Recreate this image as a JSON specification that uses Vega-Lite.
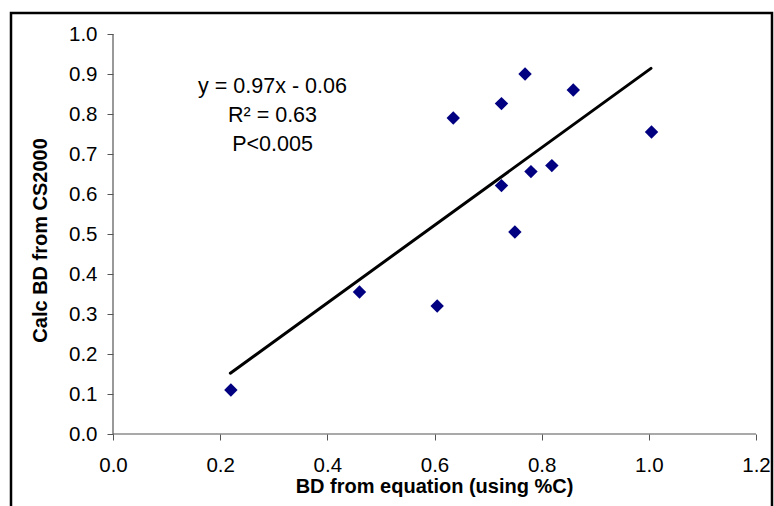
{
  "$schema": "https://vega.github.io/schema/vega-lite/v6.json",
  "width": 761,
  "height": 500,
  "autosize": {"type": "none"},
  "padding": {"left": 11, "top": 13, "right": 2, "bottom": 0},
  "background": "white",
  "config": {
    "view": {"stroke": "black", "strokeWidth": 2.5},
    "font": "Liberation Sans",
    "axisX": {"domain": false, "grid": false, "tickSize": 6, "tickColor": "#555555", "labelFontSize": 20.5, "labelColor": "black",
      "labelFont": "Liberation Sans", "labelPadding": 15, "offset": -79, "labelFlush": false, "labelOverlap": false},
    "axisY": {"domain": false, "grid": false, "tickSize": 6, "tickColor": "#555555", "labelFontSize": 20.5, "labelColor": "black",
      "labelFont": "Liberation Sans", "labelPadding": 10, "offset": -102, "labelFlush": false, "labelOverlap": false}
  },
  "datasets": {
    "points": [
      {"x": 0.22, "y": 0.11},
      {"x": 0.46, "y": 0.355},
      {"x": 0.605, "y": 0.32},
      {"x": 0.635, "y": 0.79},
      {"x": 0.725, "y": 0.826},
      {"x": 0.725, "y": 0.621},
      {"x": 0.75, "y": 0.505},
      {"x": 0.769, "y": 0.9},
      {"x": 0.78, "y": 0.656},
      {"x": 0.819, "y": 0.671},
      {"x": 0.859, "y": 0.86},
      {"x": 1.005, "y": 0.755}
    ],
    "fit": [{"x": 0.219, "y": 0.152}, {"x": 1.004, "y": 0.914}]
  },
  "layer": [
    {
      "data": {"values": [{}]},
      "mark": {"type": "rule", "color": "#555555", "strokeWidth": 1.2},
      "encoding": {
        "x": {"datum": 0, "type": "quantitative", "scale": {"domain": [-0.19036, 1.22986], "nice": false, "zero": false},
          "axis": {"values": [0, 0.2, 0.4, 0.6, 0.8, 1, 1.2], "format": ".1f", "title": null}},
        "x2": {"datum": 1.2},
        "y": {"datum": 0, "type": "quantitative", "scale": {"domain": [-0.1975, 1.0525], "nice": false, "zero": false},
          "axis": {"values": [0, 0.1, 0.2, 0.3, 0.4, 0.5, 0.6, 0.7, 0.8, 0.9, 1.0], "format": ".1f", "title": null}}
      }
    },
    {
      "data": {"values": [{}]},
      "mark": {"type": "rule", "color": "#555555", "strokeWidth": 1.2},
      "encoding": {
        "x": {"datum": 0, "type": "quantitative", "scale": {"domain": [-0.19036, 1.22986], "nice": false, "zero": false},
          "axis": {"values": [0, 0.2, 0.4, 0.6, 0.8, 1, 1.2], "format": ".1f", "title": null}},
        "y": {"datum": 0, "type": "quantitative", "scale": {"domain": [-0.1975, 1.0525], "nice": false, "zero": false},
          "axis": {"values": [0, 0.1, 0.2, 0.3, 0.4, 0.5, 0.6, 0.7, 0.8, 0.9, 1.0], "format": ".1f", "title": null}},
        "y2": {"datum": 1.0}
      }
    },
    {
      "data": {"name": "fit"},
      "mark": {"type": "line", "color": "black", "strokeWidth": 3, "strokeCap": "round"},
      "encoding": {
        "x": {"field": "x", "type": "quantitative", "scale": {"domain": [-0.19036, 1.22986], "nice": false, "zero": false},
          "axis": {"values": [0, 0.2, 0.4, 0.6, 0.8, 1, 1.2], "format": ".1f", "title": null}},
        "y": {"field": "y", "type": "quantitative", "scale": {"domain": [-0.1975, 1.0525], "nice": false, "zero": false},
          "axis": {"values": [0, 0.1, 0.2, 0.3, 0.4, 0.5, 0.6, 0.7, 0.8, 0.9, 1.0], "format": ".1f", "title": null}}
      }
    },
    {
      "data": {"name": "points"},
      "mark": {"type": "point", "shape": "diamond", "filled": true, "color": "#000080", "size": 180, "opacity": 1},
      "encoding": {
        "x": {"field": "x", "type": "quantitative", "scale": {"domain": [-0.19036, 1.22986], "nice": false, "zero": false},
          "axis": {"values": [0, 0.2, 0.4, 0.6, 0.8, 1, 1.2], "format": ".1f", "title": null}},
        "y": {"field": "y", "type": "quantitative", "scale": {"domain": [-0.1975, 1.0525], "nice": false, "zero": false},
          "axis": {"values": [0, 0.1, 0.2, 0.3, 0.4, 0.5, 0.6, 0.7, 0.8, 0.9, 1.0], "format": ".1f", "title": null}}
      }
    },
    {
      "data": {"values": [{"label": "y = 0.97x - 0.06"}]},
      "mark": {"type": "text", "fontSize": 21.5, "align": "center", "baseline": "alphabetic", "color": "black"},
      "encoding": {
        "text": {"field": "label"},
        "x": {"datum": 0.2977, "type": "quantitative", "scale": {"domain": [-0.19036, 1.22986], "nice": false, "zero": false},
          "axis": {"values": [0, 0.2, 0.4, 0.6, 0.8, 1, 1.2], "format": ".1f", "title": null}},
        "y": {"datum": 0.852, "type": "quantitative", "scale": {"domain": [-0.1975, 1.0525], "nice": false, "zero": false},
          "axis": {"values": [0, 0.1, 0.2, 0.3, 0.4, 0.5, 0.6, 0.7, 0.8, 0.9, 1.0], "format": ".1f", "title": null}}
      }
    },
    {
      "data": {"values": [{"label": "R² = 0.63"}]},
      "mark": {"type": "text", "fontSize": 21.5, "align": "center", "baseline": "alphabetic", "color": "black"},
      "encoding": {
        "text": {"field": "label"},
        "x": {"datum": 0.2977, "type": "quantitative", "scale": {"domain": [-0.19036, 1.22986], "nice": false, "zero": false},
          "axis": {"values": [0, 0.2, 0.4, 0.6, 0.8, 1, 1.2], "format": ".1f", "title": null}},
        "y": {"datum": 0.779, "type": "quantitative", "scale": {"domain": [-0.1975, 1.0525], "nice": false, "zero": false},
          "axis": {"values": [0, 0.1, 0.2, 0.3, 0.4, 0.5, 0.6, 0.7, 0.8, 0.9, 1.0], "format": ".1f", "title": null}}
      }
    },
    {
      "data": {"values": [{"label": "P<0.005"}]},
      "mark": {"type": "text", "fontSize": 21.5, "align": "center", "baseline": "alphabetic", "color": "black"},
      "encoding": {
        "text": {"field": "label"},
        "x": {"datum": 0.2977, "type": "quantitative", "scale": {"domain": [-0.19036, 1.22986], "nice": false, "zero": false},
          "axis": {"values": [0, 0.2, 0.4, 0.6, 0.8, 1, 1.2], "format": ".1f", "title": null}},
        "y": {"datum": 0.707, "type": "quantitative", "scale": {"domain": [-0.1975, 1.0525], "nice": false, "zero": false},
          "axis": {"values": [0, 0.1, 0.2, 0.3, 0.4, 0.5, 0.6, 0.7, 0.8, 0.9, 1.0], "format": ".1f", "title": null}}
      }
    },
    {
      "data": {"values": [{"label": "BD from equation (using %C)"}]},
      "mark": {"type": "text", "fontSize": 20, "fontWeight": "bold", "align": "center", "baseline": "alphabetic", "color": "black"},
      "encoding": {
        "text": {"field": "label"},
        "x": {"datum": 0.6, "type": "quantitative", "scale": {"domain": [-0.19036, 1.22986], "nice": false, "zero": false},
          "axis": {"values": [0, 0.2, 0.4, 0.6, 0.8, 1, 1.2], "format": ".1f", "title": null}},
        "y": {"datum": -0.1475, "type": "quantitative", "scale": {"domain": [-0.1975, 1.0525], "nice": false, "zero": false},
          "axis": {"values": [0, 0.1, 0.2, 0.3, 0.4, 0.5, 0.6, 0.7, 0.8, 0.9, 1.0], "format": ".1f", "title": null}}
      }
    },
    {
      "data": {"values": [{"label": "Calc BD from CS2000"}]},
      "mark": {"type": "text", "fontSize": 20, "fontWeight": "bold", "align": "center", "baseline": "alphabetic", "angle": 270, "color": "black"},
      "encoding": {
        "text": {"field": "label"},
        "x": {"datum": -0.1235, "type": "quantitative", "scale": {"domain": [-0.19036, 1.22986], "nice": false, "zero": false},
          "axis": {"values": [0, 0.2, 0.4, 0.6, 0.8, 1, 1.2], "format": ".1f", "title": null}},
        "y": {"datum": 0.484, "type": "quantitative", "scale": {"domain": [-0.1975, 1.0525], "nice": false, "zero": false},
          "axis": {"values": [0, 0.1, 0.2, 0.3, 0.4, 0.5, 0.6, 0.7, 0.8, 0.9, 1.0], "format": ".1f", "title": null}}
      }
    }
  ]
}
